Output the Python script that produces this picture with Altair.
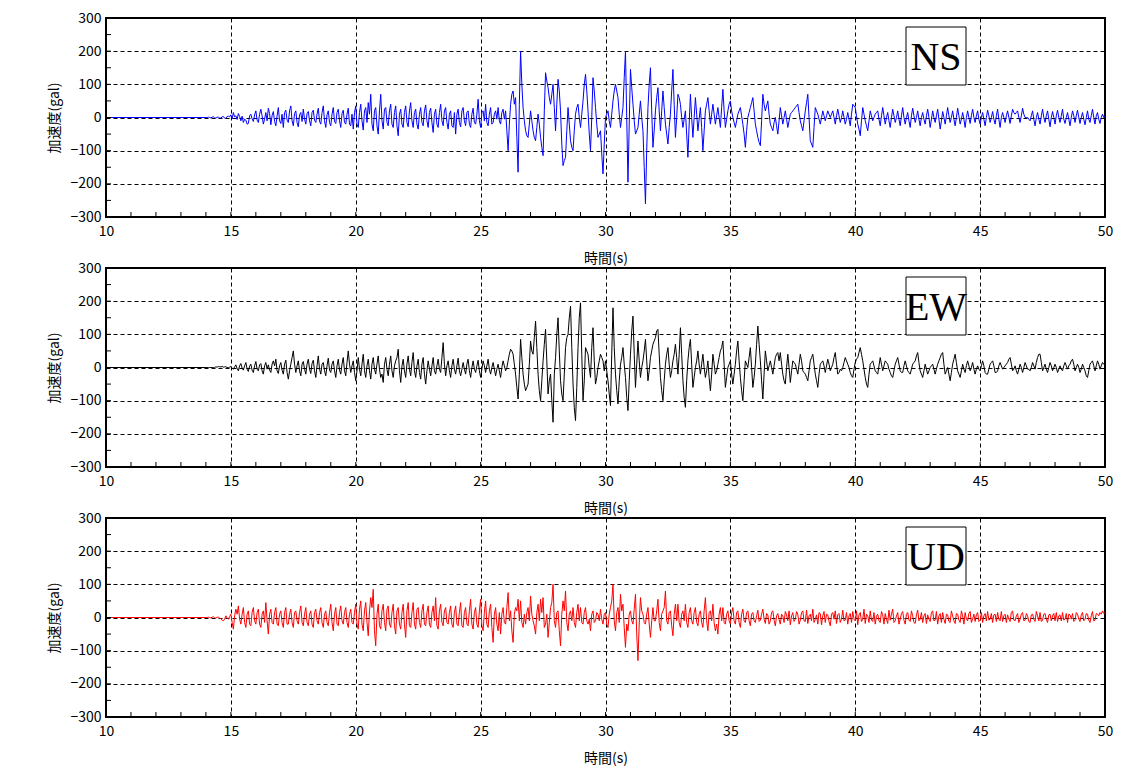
import altair as alt
import numpy as np
import pandas as pd

# samples every 0.05 s starting at 14.0 s (trace is flat at 0 from 10 s)
T_START = 14.0
T_STEP = 0.05

NS = [
    0, 0, 1, 0, -1, 1, 2, -1, -2, 1, 1, -1, -2, 2, 3, -2, -3, 3, 4, 2,
    8, -4, 15, 2, 5, -6, 12, 3, -10, 4, -15, -5, -8, -20, -18, 5, 10, -4, -12, 8,
    20, -8, -15, 10, 25, 5, -20, -5, 15, -10, 28, 12, -22, 6, 18, -12, -25, 5, 30, -10,
    -18, 10, -30, 15, 22, -8, -15, 20, 35, -10, -25, 12, 20, -15, -28, 8, 15, -12, 25, -5,
    -20, 12, 18, -10, -25, 15, 22, -8, -15, 10, 28, -12, -20, 15, 35, -10, -30, 8, 20, -15,
    -25, 10, 30, -12, -18, 15, 25, -10, -30, 12, 22, -15, -20, 10, 28, -20, -25, 10, -35, 15,
    35, -20, -30, 15, 40, -10, -38, 20, 30, -15, 45, 10, 70, -20, -40, 20, 30, -25, -50, 20,
    70, -10, -35, 25, 30, -15, -25, 20, 40, -20, -30, 15, 35, -25, -55, 10, 25, -20, -30, 15,
    35, -15, -28, 20, 45, -10, -30, 15, 25, -20, -35, 10, 30, -15, -25, 20, 38, -10, -30, 15,
    28, -15, -45, 10, 25, -20, -30, 15, 40, -10, -25, 20, 30, -15, -35, 10, 20, -25, -30, 15,
    -50, 10, 25, -15, -28, 20, 30, -10, -25, 15, 20, -20, -30, 10, 28, -15, -20, 10, 55, -10,
    -30, 15, 20, -10, 40, -15, -25, 10, 30, -20, -15, 10, 20, -5, 30, -10, -20, 15, 25, -5,
    20, -40, -100, -20, 40, 70, 80, 40, 60, -60, -165, 40, 200, 100, 30, -10, -40, -55, -60, -20,
    20, -10, -40, -60, -70, -30, 10, -20, -60, -90, -115, 20, 135, 110, 90, 60, 40, 70, 100, 30,
    -40, 40, 115, 80, 20, -80, -145, -130, -120, -40, 30, -20, -70, -90, -100, -40, 10, 30, 40, 0,
    -30, 10, 50, 100, 130, 80, 20, -50, -100, 0, 120, 80, 30, -20, -60, -50, -40, -110, -170, -80,
    0, 10, 20, -10, -30, 10, 50, 80, 100, 80, 60, 10, -30, 0, 30, 120, 200, 0, -195, -20,
    145, 90, 40, -10, -50, -40, -30, 10, 50, 0, -40, -150, -260, -100, 30, 100, 150, 20, -90, -40,
    20, 60, 90, 20, -40, 20, 80, 30, -20, -50, -80, -30, 10, 80, 145, 40, -60, 0, 70, 60,
    40, 0, -30, -5, 20, -50, -120, -20, 70, 0, -60, 0, 60, 10, -40, -5, 30, -30, -100, -40,
    20, 40, 60, 20, -20, 10, 40, 10, -20, 5, 30, 0, -30, 30, 85, 20, -30, -5, 20, 40,
    50, 20, 0, -15, -30, -10, 10, 20, 30, 5, -20, -50, -90, -40, 0, 15, 30, 45, 60, 20,
    -20, -40, -60, -75, -85, -10, 70, 40, 20, 35, 50, 10, -20, -30, -40, -15, 0, -25, -50, -10,
    30, 5, -20, 0, 20, -5, -30, -10, 10, 15, 20, 25, 30, 35, 40, 15, -10, -25, -40, -10,
    20, 45, 70, 0, -70, -80, -90, -30, 30, 20, 10, -5, -20, 0, 20, 5, -10, 5, 20, 10,
    0, 10, 20, 0, -20, 5, 25, 5, -15, 0, 20, 0, -20, -5, 15, -5, -25, 10, 40, 35,
    30, 5, -20, -35, -55, -10, 30, 10, -10, -25, -40, -10, 20, 5, -10, 0, 10, 15, 20, -5,
    -25, 5, 30, 5, -20, 0, 15, -10, -30, 0, 25, 5, -15, 0, 20, -5, -25, 5, 30, 0,
    -20, 0, 15, -10, -30, 5, 28, 5, -15, 0, 20, -5, -25, 0, 15, -5, -20, 5, 25, 0,
    -30, -5, 20, 0, -15, 5, 25, -5, -35, -10, 18, 0, -20, 5, 30, 5, -15, 0, 20, -5,
    -25, 0, 28, 5, -20, -5, 15, -5, -30, 0, 20, 0, -18, 5, 25, 0, -15, 5, 20, -5,
    -20, 0, 15, -5, -25, 0, 22, 5, -15, 0, 18, -5, -20, 5, 25, -5, -30, 0, 15, 0,
    -15, 5, 20, 0, -18, 5, 25, 15, 10, 15, 20, 0, -15, 5, 28, 10, 0, 0, 0, -5,
    -10, 5, 20, -5, -25, 0, 15, -5, -20, 5, 25, 0, -15, 5, 20, -5, -28, 0, 18, 0,
    -20, 5, 22, 0, -15, 5, 25, -5, -18, 0, 15, -5, -25, 0, 20, 5, -15, 5, 22, 0,
    -18, 0, 15, -5, -22, 0, 20, -5, -15, 5, 25, 0, -20, 5, 15, -5, -18, 0, 10, 0,
    5,
]

EW = [
    0, 0, 0, 0, 0, 0, 0, 0, 2, 1, 3, 2, 2, 3, 1, 2, 2, 0, 0, 1,
    3, -2, -5, 2, 8, -3, -10, 5, 12, -2, -8, 5, 15, -5, -12, 4, 10, -8, -15, 5,
    18, -5, -10, 8, 12, -10, -20, 5, 15, -5, 8, -8, -15, 10, 20, 5, 25, -10, -18, 5,
    15, -8, -20, 10, 22, -15, -35, -10, 10, 30, 50, 10, -15, 5, 20, -10, -25, 10, 18, -5,
    -20, 10, 25, -5, -18, 12, 22, -10, -30, 5, 35, -5, -20, 10, 15, -10, -25, 5, 28, -8,
    -15, 10, 20, -10, -30, 5, 25, -8, -20, 10, 30, -10, -25, 15, 50, 10, -15, 5, 20, -15,
    -40, -10, 30, -5, -25, 10, 40, -10, -30, 5, 25, -10, -35, 10, 30, -5, -20, 10, 35, -5,
    -30, -20, -45, 10, 30, -5, -25, 10, 35, -10, -30, 5, 20, 30, 55, -10, -45, 5, 25, -10,
    -30, 10, 35, -5, -25, 15, 45, -10, -30, 5, 25, -15, -35, 10, 30, -20, -50, -10, 20, -5,
    -25, 5, 30, -10, -20, 5, 25, -5, -15, 30, 75, 10, -25, 5, 20, -10, -30, 5, 25, -5,
    -20, 5, 28, -10, -25, -5, 15, -5, -20, 10, 25, -10, -30, 0, 20, -5, -15, 5, 22, -10,
    -30, -5, 20, 5, -15, 5, 25, -5, -20, 0, 15, -5, -25, -5, 10, -10, -30, 0, 20, 5,
    -10, 0, 20, 40, 55, 50, 40, 10, -20, -60, -95, -20, 85, 30, -20, -50, -70, -60, -50, 10,
    80, 50, 40, 90, 140, 60, -20, -70, -100, -40, 20, 70, 115, 20, -80, -40, -20, -100, -165, -20,
    30, 100, 150, 50, -40, -80, -100, -20, 60, 90, 100, 150, 185, 60, -50, -120, -160, -60, 60, 150,
    195, 40, -100, -40, 60, 50, 40, 0, -30, 60, 120, 20, -50, -30, 0, 20, 40, 30, 20, -10,
    20, -10, -40, -80, -115, 40, 180, 60, -20, -70, -110, -40, 10, 30, 60, 10, -30, -90, -130, -40,
    40, 110, 155, 40, -60, 10, 80, 20, -30, 0, 20, 50, 85, 20, -40, -10, 30, 50, 70, 80,
    90, 110, 115, 40, -30, -70, -100, -40, 10, 40, 60, 10, -30, -10, 20, 40, 70, 30, -20, 40,
    120, 40, -40, -90, -120, -40, 20, 60, 85, 10, -60, -30, 0, 20, 50, 10, -20, 10, 40, 0,
    -30, -10, 20, -30, -70, -20, 40, 10, -20, -10, 10, 30, 50, 60, 80, 10, -60, -30, 0, 10,
    20, -20, -50, -20, 10, 50, 80, 20, -30, -70, -100, -40, 20, 10, 0, 30, 60, 0, -60, -30,
    10, 70, 125, 70, 20, -40, -95, -20, 50, 20, -10, 5, 20, 0, -20, 5, 30, 40, 45, 20,
    45, 10, -20, -40, -50, 0, 40, 0, -45, -10, 20, 15, 10, -5, -20, 10, 40, 20, -10, -15,
    -20, -30, -40, -10, 20, 30, 40, 10, -20, -40, -60, -20, 10, 15, 20, 5, -15, 5, 25, 10,
    -10, 0, 10, 30, 45, 10, -20, -15, -5, -10, 0, 15, 30, 20, 10, 0, -15, -25, -30, -5,
    15, 25, 30, 45, 60, 40, 20, -5, -30, -50, -60, -20, 10, 15, 20, 5, -10, -15, -20, 5,
    30, 10, -10, 5, 20, 15, 10, -5, -15, -25, -30, -10, 10, 20, 30, 10, -10, -15, -15, 5,
    20, 5, -10, -15, -20, -5, 10, 15, 20, 35, 45, 15, -10, -20, -30, -10, 10, -5, -20, -10,
    0, 5, 10, -5, -20, -5, 10, 20, 30, 40, 45, 10, -20, -10, 0, -20, -40, -15, 10, 25,
    40, 15, -10, -20, -30, -10, 10, -5, -15, 5, 20, 5, -10, 0, 15, -5, -20, -5, 5, -5,
    -10, 5, 20, 5, -15, -20, -20, -5, 10, 15, 20, 5, -15, -15, -10, 5, 15, 5, -5, 0,
    5, 10, 15, 25, 30, 10, -10, -5, 5, -10, -20, -5, 10, 0, -15, 0, 15, 5, -5, -5,
    -10, 0, 15, 5, -5, 15, 30, 40, 40, 15, -10, 0, 10, -5, -15, 0, 15, 5, -10, 0,
    10, 0, -15, -5, 5, -5, -10, 5, 15, 5, -5, 5, 10, 20, 25, 10, -10, 0, 10, 0,
    -15, -5, 10, 0, -10, -25, -30, -10, 10, 15, 20, 5, -10, 5, 20, 10, -5, 5, 15, 10,
    10,
]

UD = [
    0, 0, 1, 0, -1, 1, 2, -1, -2, 1, 1, -2, -3, -8, -10, -5, 5, -2, -5, 3,
    10, -15, -35, 5, 25, 10, 35, -5, -20, 10, 30, -15, -30, 10, 20, -20, -25, 15, 30, -10,
    -20, 15, 25, -20, -30, 10, 20, -15, 45, -10, -50, 10, 25, -15, -20, 15, 30, -20, -25, 10,
    20, -15, -30, 15, 30, -20, -20, 10, 25, -15, -30, 15, 20, -10, -20, 15, 35, -15, -25, 10,
    30, -15, -25, 10, 20, -20, -30, 15, 25, -10, -20, 15, 30, -15, -30, 10, 20, -15, -25, 15,
    40, -15, -40, 10, 30, -20, -25, 15, 35, -10, -20, 15, 30, -15, -30, 10, 25, -15, -20, 15,
    40, -20, -35, 25, 50, -20, -40, 20, 45, -15, -55, 20, 60, 30, 85, -40, -85, 10, 40, -25,
    -35, 20, 40, -15, -40, 25, 35, -20, -30, 15, 40, -25, -50, 20, 30, -20, -35, 15, 40, -20,
    -60, 20, 45, -25, -30, 15, 45, -20, -35, 25, 30, -15, -30, 20, 40, -20, -25, 15, 35, -20,
    -30, 15, 35, -10, 60, -25, -35, 20, 40, -15, -25, 20, 30, -15, -20, 15, 35, -20, -30, 15,
    35, -20, -25, 15, 45, -25, -30, 15, 30, -20, -25, 20, 55, -20, -35, 15, 30, -20, -30, 20,
    55, -25, -40, 15, 50, -20, -30, 20, 40, -30, -75, 10, 30, -20, -40, 15, -50, 10, 30, -15,
    -20, 30, 75, -10, 20, -40, -75, 10, 30, 20, 55, -10, 50, -15, -30, 10, -20, 15, 30, -10,
    65, 10, -10, -25, -50, 15, 40, -10, 55, 15, 60, -30, -20, 10, -60, -15, 30, 45, 100, -10,
    -30, 15, 20, -40, -85, 10, 50, 20, 80, -15, -40, 10, 20, -10, 30, -15, -30, 15, 40, -10,
    30, -15, -20, 15, 30, -10, -20, -5, -40, 10, 20, -15, -10, 15, 10, -10, 25, -5, -20, 10,
    15, -20, -30, 10, 30, 50, 100, -10, -40, 15, 30, -15, 70, 20, 40, -30, -90, -20, -40, 10,
    20, -10, -20, 25, 70, -50, -130, -20, 60, 20, 10, -15, -20, 10, 30, -20, -60, -10, 30, -10,
    -10, 20, 55, -15, -40, 10, 20, 30, 80, -10, -20, 15, 20, -25, -55, 10, 40, -10, 40, -15,
    -30, 10, 20, -10, 40, -15, -30, 15, 30, -10, -20, 15, 30, -15, -25, 10, 20, -15, -30, 20,
    60, -10, -40, 15, 20, -10, 40, -15, -40, -20, -50, 10, 30, -10, 30, -15, -20, 10, 20, -10,
    -20, 15, 30, -10, -20, 15, 20, -15, -30, 10, 25, -10, -15, 15, 20, -10, -25, 10, 15, -10,
    -15, 5, 22, -12, -8, 10, 25, -5, -18, 12, 8, -20, -10, 15, 20, -8, -25, 5, 12, -6,
    -20, 10, 5, -15, 18, 8, -10, 20, -22, 5, 15, -12, -5, 18, 10, -20, -8, 15, 20, -10,
    -12, 22, -18, 5, 10, -10, 25, -15, -5, 8, -20, 15, 12, -22, 5, 18, -15, 10, 8, -12,
    -25, 10, 15, -5, 20, -18, 8, 12, -15, -5, 22, -10, -8, 15, -20, 5, 12, -15, 18, -5,
    -10, 20, -22, 8, 15, -12, -5, 25, -18, 10, 5, -15, 20, -8, -12, 15, -20, 5, 10, -10,
    -15, 18, 8, -20, 12, -5, -18, 22, -8, 10, 25, -15, -10, 5, 15, -20, -5, 12, 18, -8,
    -20, 10, 15, -8, -12, 20, 5, -15, -18, 8, 22, -10, -5, 15, -15, 5, 12, -18, 8, -5,
    -12, 15, 20, -10, -8, 18, -20, 5, 12, -15, 15, -5, -18, 10, 8, -12, -15, 20, 5, -10,
    -18, 12, 10, -8, -15, 20, 5, -20, 15, -5, -10, 12, 18, -15, -5, 10, -12, 8, 15, -12,
    -8, 15, -15, 5, 12, -10, 18, -8, -5, 12, -15, 8, 10, -12, 15, -5, -10, 18, -12, 5,
    10, -15, 8, -5, -12, 15, 20, -8, -10, 5, 12, -15, -5, 10, 15, -10, -8, 12, 5, -12,
    -15, 8, 10, -5, -12, 18, 5, -10, 15, -12, -8, 10, 12, -5, -15, 8, 10, -10, 5, 12,
    -10, 15, -12, 5, 8, -10, 15, -8, -5, 12, -15, 10, 8, -5, 12, -12, -8, 15, 10, -5,
    -12, 8, 15, -10, -5, 12, 10, -8, -15, 5, 18, -10, -8, 12, 10, 5, 15, 10, 20, 12,
    15,
]

COMPONENTS = ["NS", "EW", "UD"]
COLORS = ["#0000ff", "#000000", "#ff0000"]

X_TICKS = [10, 15, 20, 25, 30, 35, 40, 45, 50]
Y_TICKS = [-300, -200, -100, 0, 100, 200, 300]
X_MINOR = list(range(11, 50))
Y_MINOR = list(range(-250, 300, 50))

W = 999
H = 199
FONT = "Noto Sans CJK JP"


def panel(name, values, color):
    t = np.round(T_START + T_STEP * np.arange(len(values)), 3)
    df = pd.DataFrame({"t": np.concatenate([[10.0], t]), "acc": [0] + list(values)})

    x = alt.X("t:Q", scale=alt.Scale(domain=[10, 50], nice=False, zero=False),
              axis=alt.Axis(values=X_TICKS, title="時間(s)", labelPadding=7, titlePadding=13))
    y = alt.Y("acc:Q", scale=alt.Scale(domain=[-300, 300], nice=False),
              axis=alt.Axis(values=Y_TICKS, title="加速度(gal)", labelPadding=5, titlePadding=8))

    line = alt.Chart(df).mark_line(color=color, strokeWidth=1).encode(x=x, y=y)

    xminor = alt.Chart(pd.DataFrame({"t": X_MINOR})).mark_rule(color="black").encode(
        x=x, y=alt.value(H - 5), y2=alt.value(H))
    yminor = alt.Chart(pd.DataFrame({"acc": Y_MINOR})).mark_rule(color="black").encode(
        y=y, x=alt.value(0), x2=alt.value(5))

    lab = pd.DataFrame({"label": [name]})
    box = alt.Chart(lab).mark_rect(fill="white", stroke="black", strokeWidth=1).encode(
        x=alt.value(800), x2=alt.value(860), y=alt.value(9), y2=alt.value(67))
    txt = alt.Chart(lab).mark_text(font="Liberation Serif", fontSize=40, color="black",
                                   align="center", baseline="alphabetic").encode(
        x=alt.value(830), y=alt.value(52), text="label:N")

    return alt.layer(line, xminor, yminor, box, txt).properties(width=W, height=H)


panels = [panel(n, v, c) for n, v, c in zip(COMPONENTS, [NS, EW, UD], COLORS)]

# flush bounds: spacing is measured between the plot areas themselves
chart = alt.vconcat(*panels, spacing=51, bounds="flush").properties(
    padding={"left": 38, "top": 2, "right": 0, "bottom": 0},
    background="white",
).configure_view(
    stroke="black", strokeWidth=2
).configure_axis(
    grid=True, gridColor="black", gridDash=[4, 3], gridWidth=1, gridOpacity=1,
    ticks=False, domain=False, labelFlush=False,
    labelFont=FONT, labelFontSize=14, labelColor="black",
    titleFont=FONT, titleFontSize=14, titleFontWeight="normal", titleColor="black",
)

chart.save("out.html", embed_options={"renderer": "svg", "actions": False})
